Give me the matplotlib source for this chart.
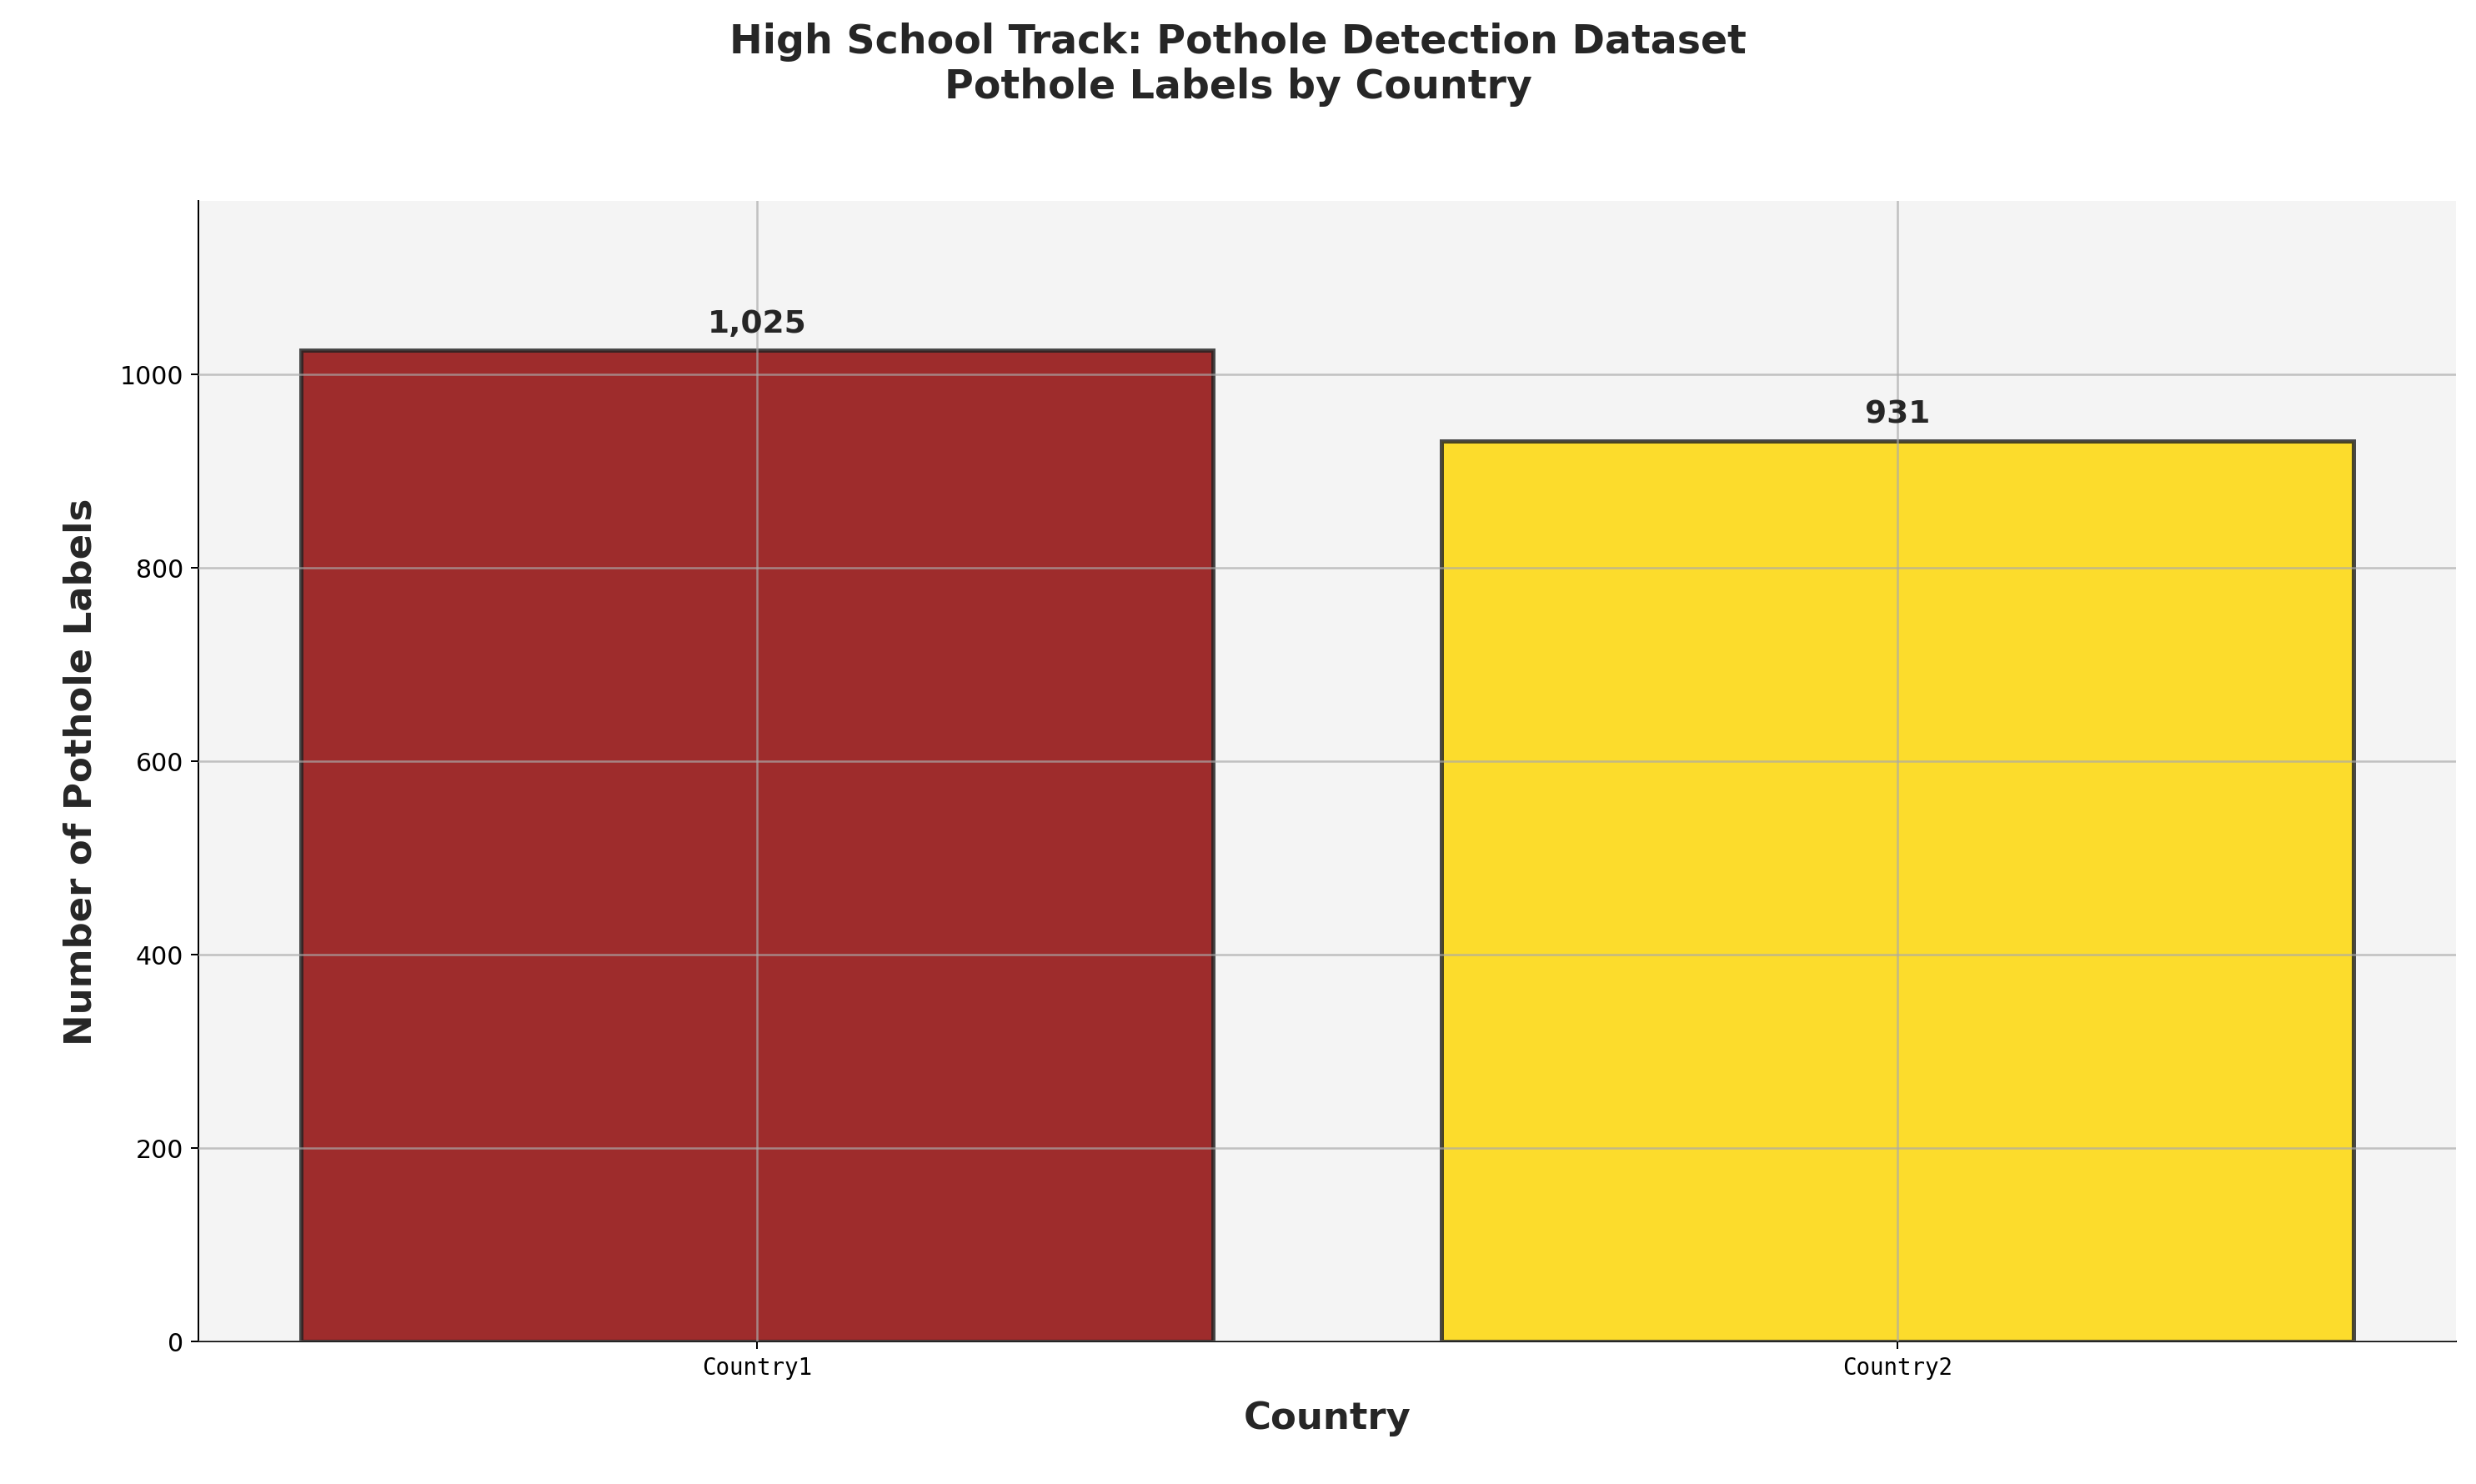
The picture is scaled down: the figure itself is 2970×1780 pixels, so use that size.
import matplotlib
matplotlib.use("Agg")
import matplotlib.pyplot as plt

countries = ["Country1", "Country2"]
labels = [1025, 931]
colors = ["#8B0000", "#FFD700"]

fig = plt.figure(figsize=(16.5, 9.894), dpi=180)
ax = fig.add_axes([0.080, 0.096, 0.912, 0.768])
ax.set_facecolor("#f4f4f4")
x = list(range(len(countries)))
bars = ax.bar(x, labels, width=0.8, color=colors, alpha=0.82, edgecolor="#222222", linewidth=2)
for b, v in zip(bars, labels):
    ax.text(b.get_x() + b.get_width() / 2, v + 12, f"{v:,}", ha="center", va="bottom",
            fontsize=15, fontweight="bold", color="#262626")
ax.set_xlim(-0.49, 1.49)
ax.set_ylim(0, max(labels) * 1.15)
ax.set_xticks(x)
ax.set_xticklabels(countries, family="DejaVu Sans Mono", fontsize=11)
ax.tick_params(axis="y", labelsize=12)
ax.grid(True, color="#aaaaaa", alpha=0.7, linewidth=1)
ax.set_axisbelow(False)
for s in ["top", "right"]:
    ax.spines[s].set_visible(False)
ax.set_xlabel("Country", fontsize=18, fontweight="bold", color="#262626", labelpad=10)
ax.set_ylabel("Number of Pothole Labels", fontsize=18, fontweight="bold", color="#262626", labelpad=10)
fig.suptitle("High School Track: Pothole Detection Dataset\nPothole Labels by Country",
             fontsize=19, fontweight="bold", color="#262626", y=0.985)
fig.savefig("out.png")
